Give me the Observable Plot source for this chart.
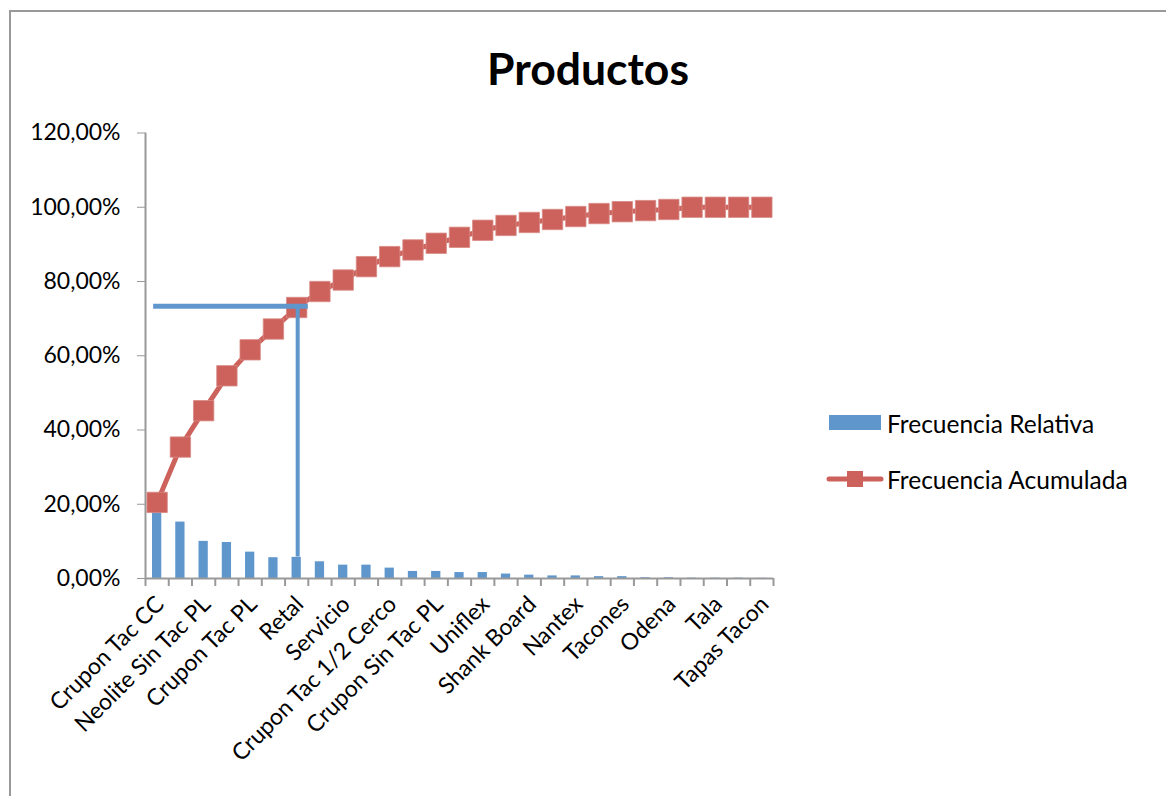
<!DOCTYPE html>
<html>
<head>
<meta charset="utf-8">
<script src="https://cdn.jsdelivr.net/npm/d3@7"></script>
<script src="https://cdn.jsdelivr.net/npm/@observablehq/plot@0.6"></script>
<style>
  html, body { margin: 0; padding: 0; background: #fff; }
  #page { position: relative; width: 1166px; height: 796px; overflow: hidden; font-family: Lato, "Open Sans", sans-serif; }
  #frame { position: absolute; left: 9px; top: 10px; width: 1200px; height: 900px; border-left: 2px solid #999; border-top: 2px solid #999; }
  #title { position: absolute; left: 0; width: 1176px; top: 46px; text-align: center; font-size: 44.5px; line-height: 44px; font-weight: bold; color: #000; }
  #chart { position: absolute; left: 0; top: 100px; }
  .leg { position: absolute; left: 826px; height: 30px; display: flex; align-items: center; font-size: 24.5px; color: #000; }
  .leg svg { margin-right: 3px; }
</style>
</head>
<body>
<div id="page">
  <div id="frame"></div>
  <div id="title">Productos</div>
  <div id="chart"></div>
  <div class="leg" style="top:408px"><svg width="58" height="30"><rect x="3" y="7" width="52" height="15" fill="#5F97CD"></rect></svg><span>Frecuencia Relativa</span></div>
  <div class="leg" style="top:464px"><svg width="58" height="30"><line x1="3" x2="55" y1="15" y2="15" stroke="#CD625C" stroke-width="5" stroke-linecap="round"></line><rect x="21" y="7" width="16" height="16" fill="#CD625C"></rect></svg><span>Frecuencia Acumulada</span></div>
</div>
<script>
const categorias = [
  "Crupon Tac CC", "Producto 2", "Neolite Sin Tac PL", "Producto 4", "Crupon Tac PL",
  "Producto 6", "Retal", "Producto 8", "Servicio", "Producto 10",
  "Crupon Tac 1/2 Cerco", "Producto 12", "Crupon Sin Tac PL", "Producto 14", "Uniflex",
  "Producto 16", "Shank Board", "Producto 18", "Nantex", "Producto 20",
  "Tacones", "Producto 22", "Odena", "Producto 24", "Tala",
  "Producto 26", "Tapas Tacon"
];
const etiquetas = ["Crupon Tac CC", "Neolite Sin Tac PL", "Crupon Tac PL", "Retal", "Servicio",
  "Crupon Tac 1/2 Cerco", "Crupon Sin Tac PL", "Uniflex", "Shank Board", "Nantex",
  "Tacones", "Odena", "Tala", "Tapas Tacon"];
const relativa = [20.5, 15.2, 10.0, 9.7, 7.1, 5.6, 5.7, 4.5, 3.6, 3.6, 2.8, 1.9, 1.9, 1.6, 1.6, 1.2, 0.9, 0.7, 0.7, 0.5, 0.5, 0.2, 0.2, 0.1, 0.1, 0.1, 0.05];
const acumulada = [20.5, 35.4, 45.2, 54.6, 61.6, 67.2, 73.0, 77.3, 80.4, 84.0, 86.7, 88.5, 90.3, 91.9, 93.8, 95.1, 95.9, 96.7, 97.5, 98.3, 98.8, 99.1, 99.4, 100, 100, 100, 100];
const yTicks = [0, 20, 40, 60, 80, 100, 120];
const corteY = 73.3;      // annotation horizontal line level
const corteBase = 5.8;    // annotation vertical line bottom
const corteCat = "Retal";

const data = categorias.map((c, i) => ({cat: c, rel: relativa[i], acu: acumulada[i]}));

const W = 800, H = 696, mL = 145, mR = 27, mT = 32.5, mB = 218;
const bw = (W - mL - mR) / categorias.length;
const pxPerUnit = (H - mT - mB) / 120;
const blue = "#5F97CD", red = "#CD625C", gray = "#999";
const fmt = v => v.toFixed(2).replace(".", ",") + "%";
const corteIdx = categorias.indexOf(corteCat);

const chart = Plot.plot({
  width: W, height: H,
  marginLeft: mL, marginRight: mR, marginTop: mT, marginBottom: mB,
  style: {fontFamily: "Lato, 'Open Sans', sans-serif", fontSize: "23px", color: "#000", background: "transparent"},
  x: {domain: categorias, padding: 0, round: false, label: null},
  y: {domain: [0, 120], label: null},
  marks: [
    Plot.barY(data, {x: "cat", y: "rel", fill: blue, insetLeft: 7, insetRight: 7}),
    // axes lines
    Plot.ruleY([0], {stroke: gray, strokeWidth: 2}),
    Plot.ruleX([categorias[0]], {y1: 0, y2: 120, dx: -bw / 2, stroke: gray, strokeWidth: 2}),
    // x ticks between categories
    Plot.ruleX(categorias, {x: d => d, y1: 0, y2: -8 / pxPerUnit, dx: -bw / 2, stroke: gray, strokeWidth: 2}),
    Plot.ruleX([categorias[categorias.length - 1]], {y1: 0, y2: -8 / pxPerUnit, dx: bw / 2, stroke: gray, strokeWidth: 2}),
    Plot.axisY({ticks: yTicks, tickFormat: fmt, tickSize: 8, tickPadding: 17, stroke: gray, tickWidth: 2, fontSize: 23}),
    Plot.axisX({ticks: etiquetas, tickSize: 0, tickRotate: -45, tickPadding: 22, dx: 3, fontSize: 23}),
    Plot.lineY(data, {x: "cat", y: "acu", stroke: red, strokeWidth: 5}),
    Plot.dot(data, {x: "cat", y: "acu", symbol: "square", r: 11.5, fill: red, stroke: "#d88a85", strokeWidth: 0.8}),
    // annotation lines
    Plot.ruleY([corteY], {insetLeft: 0.35 * bw, insetRight: (categorias.length - 1 - corteIdx) * bw, stroke: blue, strokeWidth: 5}),
    Plot.ruleX([corteCat], {y1: corteBase, y2: corteY, dx: 1, stroke: blue, strokeWidth: 4})
  ]
});
document.getElementById("chart").appendChild(chart);
</script>
</body>
</html>
